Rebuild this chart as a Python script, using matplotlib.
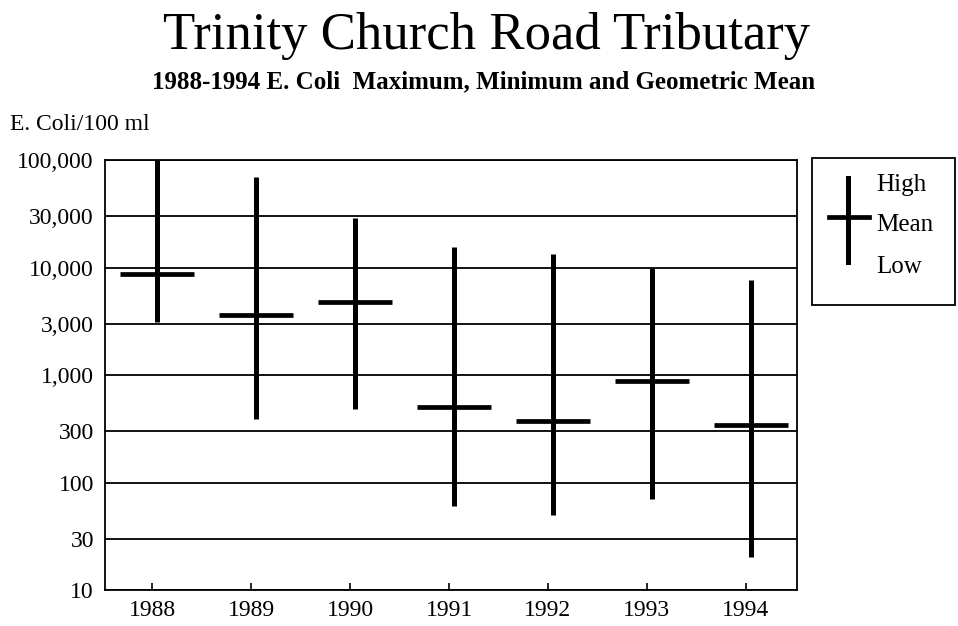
import matplotlib
matplotlib.use("Agg")
import matplotlib.pyplot as plt
from matplotlib.lines import Line2D
from matplotlib.patches import Rectangle
import numpy as np

years = ["1988", "1989", "1990", "1991", "1992", "1993", "1994"]
high = [100000, 70000, 29000, 15700, 13500, 10000, 7600]
low = [3100, 392, 484, 60, 50, 70, 20.5]
mean = [8800, 3600, 4800, 507, 378, 886, 344]
ytick_vals = [10, 30, 100, 300, 1000, 3000, 10000, 30000, 100000]
ytick_labels = ["10", "30", "100", "300", "1,000", "3,000", "10,000", "30,000", "100,000"]

plt.rcParams['font.family'] = ['Liberation Serif', 'DejaVu Serif']

fig = plt.figure(figsize=(9.58, 6.26), dpi=100)
ax = fig.add_axes([0.1096, 0.0575, 0.7224, 0.6865])

x = np.arange(len(years))
xm = x + 0.05
half = 0.375

ax.set_yscale('log')
ax.set_ylim(10, 100000)
ax.set_xlim(-0.48, 6.52)
ax.set_yticks(ytick_vals)
ax.set_yticklabels(ytick_labels, fontsize=17)
ax.minorticks_off()
ax.yaxis.grid(True, color='black', linewidth=1.3)
ax.set_axisbelow(True)
ax.tick_params(axis='y', length=0, pad=8)
ax.set_xticks(x)
ax.set_xticklabels(years, fontsize=17)
ax.tick_params(axis='x', direction='in', length=5, width=1.2, pad=7)
for s in ax.spines.values():
    s.set_linewidth(1.3)
    s.set_color('black')

ax.vlines(xm, low, high, colors='black', linewidth=3.6, zorder=3)
ax.hlines(mean, xm - half, xm + half, colors='black', linewidth=3.4, zorder=3)

fig.text(0.508, 0.922, "Trinity Church Road Tributary", ha='center', va='baseline', fontsize=38)
fig.text(0.505, 0.859, "1988-1994 E. Coli  Maximum, Minimum and Geometric Mean", ha='center', va='baseline',
         fontsize=18, fontweight='bold')
fig.text(0.010, 0.793, "E. Coli/100 ml", ha='left', va='baseline', fontsize=17)

# legend box
W, H = 958.0, 626.0
def fx(px): return px / W
def fy(py): return 1 - py / H
fig.add_artist(Rectangle((fx(812), fy(305)), fx(955) - fx(812), fy(158) - fy(305),
                         transform=fig.transFigure, fill=False, edgecolor='black', linewidth=1.3))
fig.add_artist(Line2D([fx(848), fx(848)], [fy(178), fy(262)], transform=fig.transFigure,
                      color='black', linewidth=3.6))
fig.add_artist(Line2D([fx(829), fx(869)], [fy(217), fy(217)], transform=fig.transFigure,
                      color='black', linewidth=3.4))
for label, py in [("High", 191), ("Mean", 231), ("Low", 273)]:
    fig.text(fx(876), fy(py), label, ha='left', va='baseline', fontsize=18)

fig.savefig("out.png", dpi=100)
